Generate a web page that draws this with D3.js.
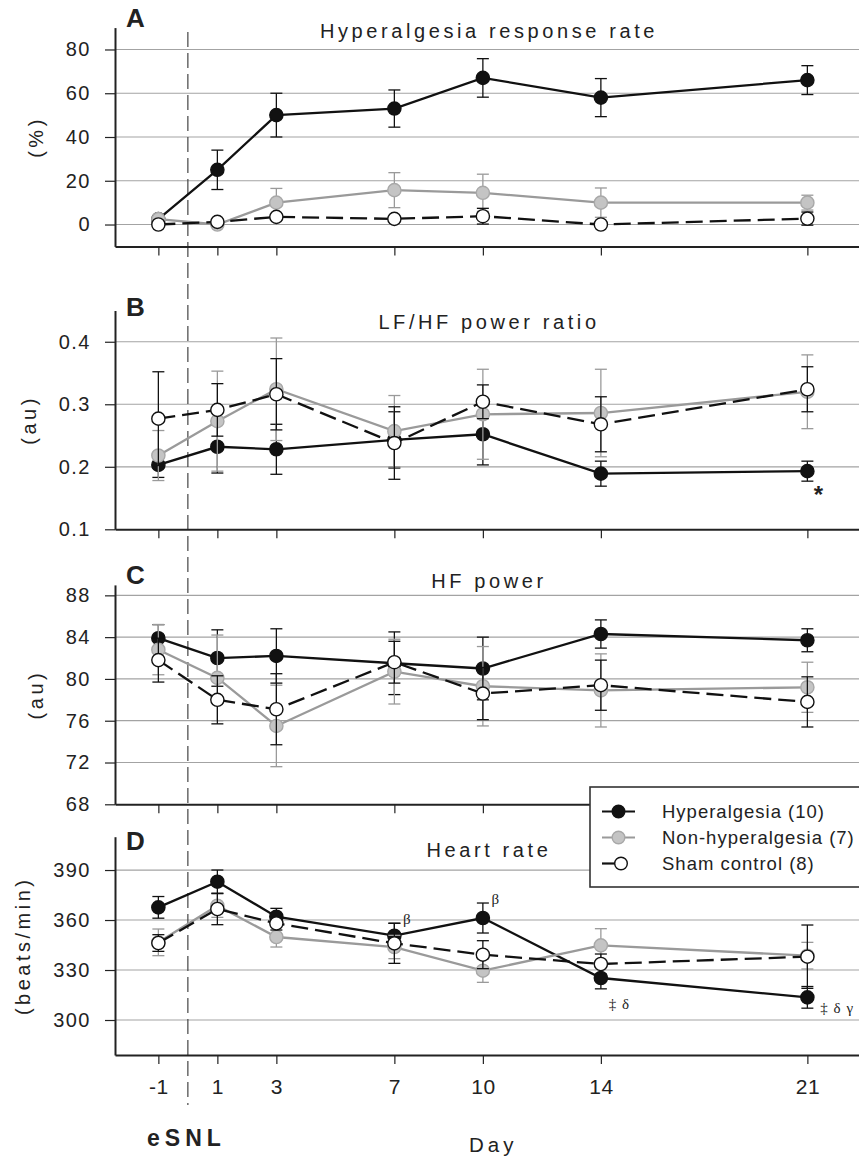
<!DOCTYPE html>
<html>
<head>
<meta charset="utf-8">
<script src="https://cdn.jsdelivr.net/npm/d3@7"></script>
<style>
  body { margin: 0; background: #fff; }
  text { font-family: 'Liberation Sans', Arial, sans-serif; fill: #222; }
</style>
</head>
<body>
<svg id="chart" width="859" height="1161"></svg>
<script>
const days = [-1, 1, 3, 7, 10, 14, 21];
const groupNames = ['Hyperalgesia (10)', 'Non-hyperalgesia (7)', 'Sham control (8)'];

// A - hyperalgesia response rate (%)
const rateHyper = [2.5, 25, 50, 53, 67, 58, 66];
const rateHyperErr = [1.5, 9, 10, 8.5, 8.8, 8.7, 6.6];
const rateNon = [2.5, 0, 10, 15.7, 14.5, 10, 10];
const rateNonErr = [1, 0.5, 6.5, 8, 8.5, 6.7, 3.4];
const rateSham = [0, 1.2, 3.5, 2.6, 3.8, 0, 2.7];
const rateShamErr = [0.5, 0.5, 1, 1, 3.6, 0.3, 3];

// B - LF/HF power ratio
const lfhfHyper = [0.203, 0.232, 0.228, 0.243, 0.252, 0.189, 0.193];
const lfhfHyperErr = [0.02, 0.042, 0.04, 0.045, 0.049, 0.02, 0.016];
const lfhfNon = [0.218, 0.273, 0.324, 0.257, 0.284, 0.286, 0.320];
const lfhfNonErr = [0.04, 0.08, 0.082, 0.057, 0.072, 0.07, 0.059];
const lfhfSham = [0.277, 0.291, 0.316, 0.238, 0.304, 0.268, 0.324];
const lfhfShamErr = [0.075, 0.042, 0.057, 0.058, 0.027, 0.044, 0.036];

// C - HF power
const hfHyper = [83.9, 82.0, 82.2, 81.5, 81.0, 84.3, 83.7];
const hfHyperErr = [1.3, 2.7, 2.6, 3.0, 3.0, 1.35, 1.1];
const hfNon = [82.8, 80.1, 75.5, 80.7, 79.3, 78.9, 79.2];
const hfNonErr = [2.4, 4.1, 3.9, 3.1, 3.8, 3.5, 2.4];
const hfSham = [81.8, 78.0, 77.1, 81.6, 78.6, 79.4, 77.8];
const hfShamErr = [2.1, 2.3, 3.4, 2.0, 2.5, 2.4, 2.4];

// D - heart rate
const hrHyper = [367.6, 383, 362, 350.6, 361.2, 325.2, 313.6];
const hrHyperErr = [6.5, 7, 5, 7.5, 9, 6.5, 6.5];
const hrNon = [346.6, 368.6, 349.8, 343.8, 329.6, 344.8, 338.6];
const hrNonErr = [8, 7, 6, 7, 7, 10, 8];
const hrSham = [346.2, 366.6, 358, 346, 339.2, 333.6, 338];
const hrShamErr = [5, 9.4, 4, 12, 8.4, 6, 19];

// significance marks
const lfhfMarks = [{ day: 21, text: '*' }];
const hrMarks = [
  { day: 7, text: 'β', pos: 'above' },
  { day: 10, text: 'β', pos: 'above' },
  { day: 14, text: '‡ δ', pos: 'below' },
  { day: 21, text: '‡ δ γ', pos: 'right' }
];

const svg = d3.select('#chart');
svg.append('rect').attr('width', 859).attr('height', 1161).attr('fill', '#fff');

const x = d3.scaleLinear().domain([-2.47, 22.75]).range([115, 859]);

const styles = [
  { line: '#111', fill: '#111', stroke: '#111', err: '#111', dash: null },
  { line: '#9a9a9a', fill: '#c4c4c4', stroke: '#a8a8a8', err: '#9a9a9a', dash: null },
  { line: '#111', fill: '#fff', stroke: '#111', err: '#111', dash: '17,7' }
];

const panels = [
  { letter: 'A', title: 'Hyperalgesia response rate', unit: '(%)', domain: [-10, 90], range: [246.4, 27.6],
    ticks: [0, 20, 40, 60, 80], fmt: d3.format('d'), titleY: 37.5, letterY: 26.7,
    series: [[rateHyper, rateHyperErr], [rateNon, rateNonErr], [rateSham, rateShamErr]] },
  { letter: 'B', title: 'LF/HF power ratio', unit: '(au)', domain: [0.1, 0.45], range: [529.3, 310.5],
    ticks: [0.1, 0.2, 0.3, 0.4], fmt: d3.format('.1f'), titleY: 329, letterY: 315.5,
    series: [[lfhfHyper, lfhfHyperErr], [lfhfNon, lfhfNonErr], [lfhfSham, lfhfShamErr]] },
  { letter: 'C', title: 'HF power', unit: '(au)', domain: [68, 89], range: [804.3, 584.9],
    ticks: [68, 72, 76, 80, 84, 88], fmt: d3.format('d'), titleY: 588, letterY: 584,
    series: [[hfHyper, hfHyperErr], [hfNon, hfNonErr], [hfSham, hfShamErr]] },
  { letter: 'D', title: 'Heart rate', unit: '(beats/min)', domain: [279, 410], range: [1055, 836.7],
    ticks: [300, 330, 360, 390], fmt: d3.format('d'), titleY: 857, letterY: 849.5,
    series: [[hrHyper, hrHyperErr], [hrNon, hrNonErr], [hrSham, hrShamErr]] }
];

// gridlines first, underneath everything
panels.forEach(p => {
  p.y = d3.scaleLinear().domain(p.domain).range(p.range);
  svg.append('g')
    .selectAll('line')
    .data(p.ticks.filter(t => t > p.domain[0]))
    .enter().append('line')
      .attr('x1', 115).attr('x2', 859)
      .attr('y1', d => p.y(d)).attr('y2', d => p.y(d))
      .attr('stroke', '#a3a3a3').attr('stroke-width', 1.2);
});

// eSNL surgery marker
svg.append('line')
  .attr('x1', x(0)).attr('x2', x(0))
  .attr('y1', 32).attr('y2', 1105)
  .attr('stroke', '#444').attr('stroke-width', 1.2)
  .attr('stroke-dasharray', '15,6');

panels.forEach((p, pi) => {
  const y = p.y;
  const g = svg.append('g');

  // y axis
  const ya = g.append('g')
    .attr('transform', 'translate(115,0)')
    .call(d3.axisLeft(y).tickValues(p.ticks).tickFormat(p.fmt).tickSize(10).tickSizeOuter(0).tickPadding(14));
  ya.select('.domain').attr('stroke', '#222').attr('stroke-width', 2);
  ya.selectAll('.tick line').attr('stroke', '#222').attr('stroke-width', 1.2);
  ya.selectAll('.tick text')
    .attr('font-size', 20).attr('font-family', "'Liberation Sans', Arial, sans-serif")
    .attr('fill', '#222').style('letter-spacing', '1.5px');

  // x axis (plain hyphen for -1, like the original)
  const xa = g.append('g')
    .attr('transform', `translate(0,${p.range[0]})`)
    .call(d3.axisBottom(x).tickValues(days).tickFormat(pi === 3 ? d => String(d) : '').tickSize(9).tickSizeOuter(0).tickPadding(15));
  xa.select('.domain').attr('stroke', '#222').attr('stroke-width', 2);
  xa.selectAll('.tick line').attr('stroke', '#222').attr('stroke-width', 1.2);
  xa.selectAll('.tick text')
    .attr('font-size', 21).attr('font-family', "'Liberation Sans', Arial, sans-serif")
    .attr('fill', '#222').style('letter-spacing', '0.5px');

  // y label, placed relative to the widest tick label
  let minX = 115;
  ya.selectAll('.tick text').each(function () {
    const b = this.getBBox();
    const m = this.getCTM();
    minX = Math.min(minX, b.x + m.e);
  });
  g.append('text')
    .attr('transform', `translate(${minX - 30},${(p.range[0] + p.range[1]) / 2}) rotate(-90)`)
    .attr('text-anchor', 'middle').attr('dy', '0.35em')
    .attr('font-size', 20).style('letter-spacing', '3.5px')
    .text(p.unit);

  // panel letter and title
  g.append('text')
    .attr('x', 126).attr('y', p.letterY)
    .attr('font-size', 26).attr('font-weight', 'bold')
    .text(p.letter);
  g.append('text')
    .attr('x', 489).attr('y', p.titleY)
    .attr('text-anchor', 'middle')
    .attr('font-size', 20).style('letter-spacing', '3.6px')
    .text(p.title);

  // series: error bars, line, markers
  p.series.forEach(([vals, errs], si) => {
    const st = styles[si];
    const pts = days.map((d, i) => ({ day: d, v: vals[i], e: errs[i] }));
    const sg = g.append('g');

    const eb = sg.selectAll('.err').data(pts).enter().append('g')
      .attr('stroke', st.err).attr('stroke-width', 1.3);
    eb.append('line')
      .attr('x1', d => x(d.day)).attr('x2', d => x(d.day))
      .attr('y1', d => y(d.v - d.e)).attr('y2', d => y(d.v + d.e));
    eb.append('line')
      .attr('x1', d => x(d.day) - 6).attr('x2', d => x(d.day) + 6)
      .attr('y1', d => y(d.v + d.e)).attr('y2', d => y(d.v + d.e));
    eb.append('line')
      .attr('x1', d => x(d.day) - 6).attr('x2', d => x(d.day) + 6)
      .attr('y1', d => y(d.v - d.e)).attr('y2', d => y(d.v - d.e));

    sg.append('path')
      .datum(pts)
      .attr('d', d3.line().x(d => x(d.day)).y(d => y(d.v)))
      .attr('fill', 'none')
      .attr('stroke', st.line).attr('stroke-width', 2.3)
      .attr('stroke-dasharray', st.dash);

    sg.selectAll('circle').data(pts).enter().append('circle')
      .attr('cx', d => x(d.day)).attr('cy', d => y(d.v))
      .attr('r', 6.6)
      .attr('fill', st.fill).attr('stroke', st.stroke).attr('stroke-width', 1.4);
  });
});

// significance marks
const yB = panels[1].y, yD = panels[3].y;
lfhfMarks.forEach(m => {
  const i = days.indexOf(m.day);
  svg.append('text')
    .attr('x', x(m.day) + 11).attr('y', yB(lfhfHyper[i] - lfhfHyperErr[i]) + 22)
    .attr('text-anchor', 'middle')
    .attr('font-size', 24).attr('font-weight', 'bold')
    .text(m.text);
});
hrMarks.forEach(m => {
  const i = days.indexOf(m.day);
  const cx = x(m.day), cy = yD(hrHyper[i]);
  let tx = cx + 13, ty = yD(hrHyper[i] + hrHyperErr[i]) + 1, anchor = 'middle';
  if (m.pos === 'below') { tx = cx + 8; ty = yD(hrHyper[i] - hrHyperErr[i]) + 20; anchor = 'start'; }
  if (m.pos === 'right') { tx = cx + 13; ty = cy + 16; anchor = 'start'; }
  svg.append('text')
    .attr('x', tx).attr('y', ty)
    .attr('text-anchor', anchor)
    .style('font-family', "'Liberation Serif', 'DejaVu Serif', serif")
    .style('fill', '#222')
    .attr('font-size', 15).style('letter-spacing', '1px')
    .text(m.text);
});

// x axis titles
svg.append('text')
  .attr('x', 147).attr('y', 1145.7)
  .attr('font-size', 23).attr('font-weight', 'bold').style('letter-spacing', '5px')
  .text('eSNL');
svg.append('text')
  .attr('x', 469).attr('y', 1151.7)
  .attr('font-size', 20.5).style('letter-spacing', '4px')
  .text('Day');

// legend
const lg = svg.append('g');
lg.append('rect')
  .attr('x', 590).attr('y', 787).attr('width', 290).attr('height', 100)
  .attr('fill', '#fff').attr('stroke', '#333').attr('stroke-width', 1.6);
const rowY = d3.scalePoint().domain(groupNames).range([811.5, 863.5]);
groupNames.forEach((name, i) => {
  const st = styles[i];
  const yy = rowY(name);
  lg.append('line')
    .attr('x1', 602).attr('x2', i === 2 ? 616 : 635)
    .attr('y1', yy).attr('y2', yy)
    .attr('stroke', st.line).attr('stroke-width', 2.2);
  lg.append('circle')
    .attr('cx', i === 2 ? 621 : 618.5).attr('cy', yy).attr('r', 6.3)
    .attr('fill', st.fill).attr('stroke', st.stroke).attr('stroke-width', 1.4);
  lg.append('text')
    .attr('x', 662).attr('y', yy).attr('dy', '0.36em')
    .attr('font-size', 18.5).style('letter-spacing', '1px')
    .text(name);
});
</script>
</body>
</html>
